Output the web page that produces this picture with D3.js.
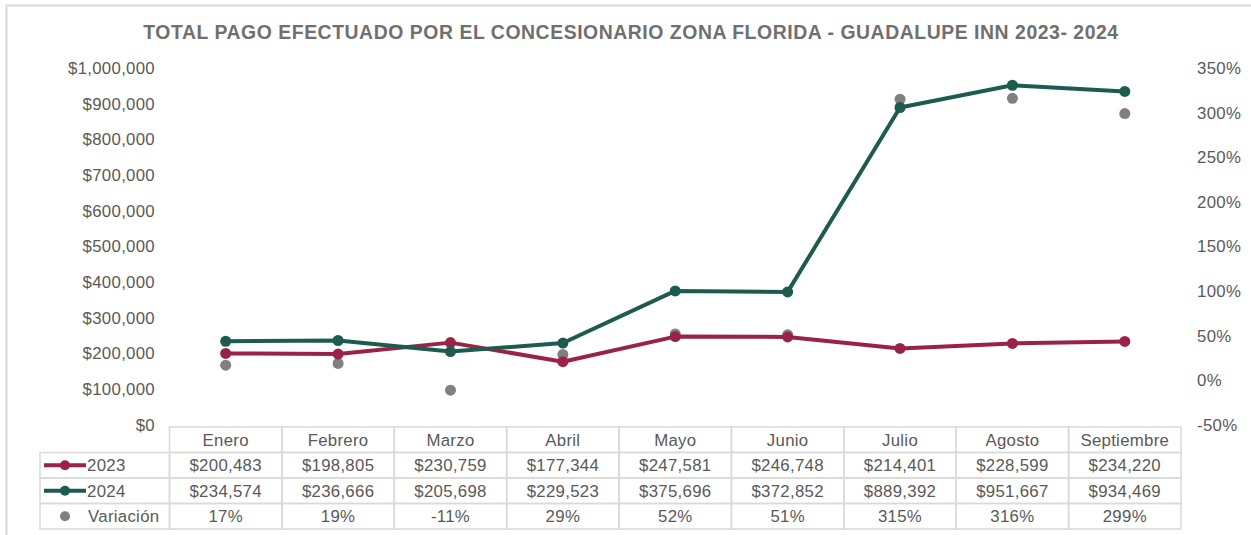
<!DOCTYPE html>
<html>
<head>
<meta charset="utf-8">
<script src="https://cdn.jsdelivr.net/npm/d3@7"></script>
<style>
  body { margin: 0; background: #fff; }
  text { font-family: "Liberation Sans", Arial, sans-serif; }
</style>
</head>
<body>
<div id="chart"></div>
<script>
var months = ["Enero", "Febrero", "Marzo", "Abril", "Mayo", "Junio", "Julio", "Agosto", "Septiembre"];
var pagos2023 = [200483, 198805, 230759, 177344, 247581, 246748, 214401, 228599, 234220];
var pagos2024 = [234574, 236666, 205698, 229523, 375696, 372852, 889392, 951667, 934469];
var variacion = [17, 19, -11, 29, 52, 51, 315, 316, 299];
var leftTicks = [0, 100000, 200000, 300000, 400000, 500000, 600000, 700000, 800000, 900000, 1000000];
var rightTicks = [-50, 0, 50, 100, 150, 200, 250, 300, 350];

var width = 1251, height = 535;
var colors = { y2023: "#9b2247", y2024: "#1e5b4f", variacion: "#808080" };
var textColor = "#595959", borderColor = "#d9d9d9";
var fs = 16.8, ls = 0.3;

var svg = d3.select("#chart").append("svg")
    .attr("width", width)
    .attr("height", height);

// outer chart frame
svg.append("rect")
    .attr("x", 6.5).attr("y", 5.5)
    .attr("width", 1270).attr("height", 560)
    .attr("fill", "none")
    .attr("stroke", borderColor)
    .attr("stroke-width", 2);

svg.append("text")
    .attr("x", 631).attr("y", 39)
    .attr("text-anchor", "middle")
    .attr("font-size", 19.4)
    .attr("font-weight", "bold")
    .attr("letter-spacing", 0.55)
    .attr("fill", "#6f6f6f")
    .text("TOTAL PAGO EFECTUADO POR EL CONCESIONARIO ZONA FLORIDA - GUADALUPE INN 2023- 2024");

var x = d3.scaleBand().domain(months).range([169.5, 1181]);
var y = d3.scaleLinear().domain([0, 1000000]).range([425, 68]);
var y2 = d3.scaleLinear().domain([-50, 350]).range([425, 68]);

var money = d3.format("$,");

function styleTicks(g) {
    g.select(".domain").remove();
    g.selectAll("text")
        .attr("font-size", fs)
        .attr("letter-spacing", ls)
        .attr("fill", textColor)
        .attr("font-family", "Liberation Sans, Arial, sans-serif");
}

// left axis
svg.append("g")
    .attr("transform", "translate(155,0)")
    .call(d3.axisLeft(y).tickValues(leftTicks).tickFormat(money).tickSize(0).tickPadding(0))
    .call(styleTicks);

// right axis
svg.append("g")
    .attr("transform", "translate(1197,0)")
    .call(d3.axisRight(y2).tickValues(rightTicks).tickFormat(d => d + "%").tickSize(0).tickPadding(0))
    .call(styleTicks);

var cx = d => x(d) + x.bandwidth() / 2;

function drawSeries(values, color) {
    var line = d3.line().x((d, i) => cx(months[i])).y(d => y(d));
    svg.append("path")
        .datum(values)
        .attr("fill", "none")
        .attr("stroke", color)
        .attr("stroke-width", 4)
        .attr("stroke-linejoin", "round")
        .attr("d", line);
    svg.append("g").selectAll("circle")
        .data(values)
        .join("circle")
        .attr("cx", (d, i) => cx(months[i]))
        .attr("cy", d => y(d))
        .attr("r", 5.5)
        .attr("fill", color);
}

// variation dots (secondary axis)
svg.append("g").selectAll("circle")
    .data(variacion)
    .join("circle")
    .attr("cx", (d, i) => cx(months[i]))
    .attr("cy", d => y2(d))
    .attr("r", 5.5)
    .attr("fill", colors.variacion);

drawSeries(pagos2023, colors.y2023);
drawSeries(pagos2024, colors.y2024);

// data table
var rowTop = 427, rowH = 25.5, legendLeft = 40;
var rows = [
    { label: "2023", values: pagos2023.map(money), color: colors.y2023, kind: "line" },
    { label: "2024", values: pagos2024.map(money), color: colors.y2024, kind: "line" },
    { label: "Variación", values: variacion.map(d => d + "%"), color: colors.variacion, kind: "dot" }
];

var table = svg.append("g")
    .attr("fill", "none")
    .attr("stroke", borderColor)
    .attr("stroke-width", 1.5);

// header row cells
months.forEach(function(m) {
    table.append("rect")
        .attr("x", x(m)).attr("y", rowTop)
        .attr("width", x.bandwidth()).attr("height", rowH);
});
rows.forEach(function(r, ri) {
    var ry = rowTop + rowH * (ri + 1);
    table.append("rect")
        .attr("x", legendLeft).attr("y", ry)
        .attr("width", x.range()[0] - legendLeft).attr("height", rowH);
    months.forEach(function(m) {
        table.append("rect")
            .attr("x", x(m)).attr("y", ry)
            .attr("width", x.bandwidth()).attr("height", rowH);
    });
});

svg.append("g").selectAll("text")
    .data(months)
    .join("text")
    .attr("x", d => cx(d))
    .attr("y", rowTop + rowH / 2 + 6)
    .attr("text-anchor", "middle")
    .attr("font-size", fs)
    .attr("letter-spacing", ls)
    .attr("fill", textColor)
    .text(d => d);

rows.forEach(function(r, ri) {
    var midY = rowTop + rowH * (ri + 1) + rowH / 2;
    var g = svg.append("g");
    g.selectAll("text")
        .data(r.values)
        .join("text")
        .attr("x", (d, i) => cx(months[i]))
        .attr("y", midY + 6)
        .attr("text-anchor", "middle")
        .attr("font-size", fs)
        .attr("letter-spacing", ls)
        .attr("fill", textColor)
        .text(d => d);

    if (r.kind === "line") {
        g.append("line")
            .attr("x1", 44).attr("x2", 86)
            .attr("y1", midY).attr("y2", midY)
            .attr("stroke", r.color)
            .attr("stroke-width", 4);
        g.append("circle")
            .attr("cx", 65).attr("cy", midY).attr("r", 5)
            .attr("fill", r.color);
        g.append("text")
            .attr("x", 87).attr("y", midY + 6)
            .attr("font-size", fs)
            .attr("letter-spacing", ls)
            .attr("fill", textColor)
            .text(r.label);
    } else {
        g.append("circle")
            .attr("cx", 65).attr("cy", midY).attr("r", 5)
            .attr("fill", r.color);
        g.append("text")
            .attr("x", 88).attr("y", midY + 6)
            .attr("font-size", fs)
            .attr("letter-spacing", ls)
            .attr("fill", textColor)
            .text(r.label);
    }
});
</script>
</body>
</html>
